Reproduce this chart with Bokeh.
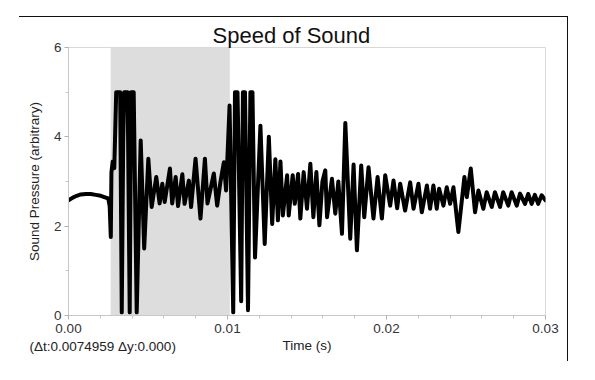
from bokeh.plotting import figure
from bokeh.models import (BoxAnnotation, FixedTicker, NumeralTickFormatter,
                          Range1d, Title)
from bokeh.embed import file_html
from bokeh.resources import INLINE

# ---- data ----
time_s = [
    0.0000, 0.00027, 0.00052, 0.00077, 0.00109, 0.0014, 0.00171, 0.00203,
    0.00234, 0.0025, 0.00259, 0.00266, 0.0027, 0.00278, 0.00288, 0.0030,
    0.00325, 0.00335, 0.00344, 0.0035, 0.00372, 0.00385, 0.00394, 0.0041,
    0.00429, 0.00454, 0.00476, 0.00502, 0.00523, 0.00552, 0.00573, 0.0059,
    0.00605, 0.00638, 0.00652, 0.00674, 0.00689, 0.00716, 0.0073, 0.00757,
    0.00771, 0.00799, 0.0083, 0.00858, 0.00874, 0.00914, 0.00935, 0.00956,
    0.00977, 0.00991, 0.01013, 0.01036, 0.01047, 0.01063, 0.01086, 0.01097,
    0.0111, 0.01129, 0.01144, 0.01157, 0.01173, 0.01207, 0.01234, 0.0126,
    0.01281, 0.01301, 0.01317, 0.01333, 0.01348, 0.01375, 0.01385, 0.0141,
    0.01423, 0.01444, 0.01458, 0.01479, 0.0150, 0.01521, 0.0154, 0.01559,
    0.01578, 0.01597, 0.01615, 0.01626, 0.01657, 0.01678, 0.01697, 0.0172,
    0.01741, 0.01772, 0.01793, 0.01814, 0.01841, 0.0186, 0.01887, 0.01918,
    0.01944, 0.01971, 0.01992, 0.02023, 0.02044, 0.02067, 0.02086, 0.02117,
    0.02149, 0.0217, 0.02201, 0.02222, 0.02254, 0.02274, 0.02295, 0.02316,
    0.02331, 0.02358, 0.02379, 0.0240, 0.02421, 0.02452, 0.0249, 0.02505,
    0.0253, 0.02557, 0.02578, 0.02609, 0.0263, 0.02662, 0.02682, 0.02714,
    0.02734, 0.02766, 0.02787, 0.02819, 0.0284, 0.02871, 0.02891, 0.02913,
    0.02933, 0.02954, 0.02976, 0.0300,
]
pressure = [
    2.58, 2.64, 2.68, 2.71, 2.72, 2.72, 2.70, 2.68,
    2.64, 2.62, 2.45, 1.76, 3.2, 3.45, 3.3, 5.0,
    5.0, 0.07, 3.9, 5.0, 5.0, 0.07, 5.0, 5.0,
    0.07, 3.92, 1.5, 3.51, 2.43, 3.1, 2.51, 2.95,
    2.54, 3.29, 2.51, 3.1, 2.45, 3.16, 2.5, 3.02,
    2.43, 3.51, 2.17, 3.51, 2.51, 3.18, 2.46, 3.0,
    3.43, 2.8, 4.7, 0.07, 5.0, 5.0, 0.32, 5.0,
    5.0, 0.12, 5.0, 5.0, 1.3, 4.25, 1.6, 4.0,
    2.05, 3.5, 2.13, 3.45, 2.24, 3.14, 2.24, 3.14,
    2.5, 3.17, 2.17, 3.21, 2.39, 3.4, 2.2, 3.21,
    2.02, 3.0, 3.25, 2.2, 3.06, 2.28, 3.0, 1.83,
    4.31, 1.72, 3.38, 1.46, 3.36, 2.2, 3.32, 2.17,
    3.1, 2.17, 3.14, 2.46, 3.02, 2.4, 2.95, 2.35,
    2.98, 2.39, 2.95, 2.31, 2.91, 2.39, 2.91, 2.39,
    2.84, 2.46, 2.87, 2.5, 2.87, 1.87, 3.1, 2.65,
    3.29, 2.31, 2.8, 2.39, 2.76, 2.43, 2.76, 2.43,
    2.76, 2.46, 2.76, 2.46, 2.73, 2.5, 2.72, 2.5,
    2.7, 2.5, 2.69, 2.58,
]
x_major = [0.0, 0.01, 0.02, 0.03]
x_minor = [0.002, 0.004, 0.006, 0.008, 0.012, 0.014, 0.016, 0.018,
           0.022, 0.024, 0.026, 0.028]
y_major = [0, 2, 4, 6]
y_minor = [1, 3, 5]
sel_start = 0.00265
sel_dt = 0.0074959
delta_text = "(\u0394t:0.0074959 \u0394y:0.000)"

FONT = "Liberation Sans"

p = figure(width=549, height=345, output_backend="svg", toolbar_location=None,
           x_range=Range1d(0, 0.03), y_range=Range1d(0, 6),
           min_border_left=49, min_border_right=23, min_border_top=30,
           min_border_bottom=47,
           styles={"border-top": "1px solid #111", "border-right": "1px solid #111",
                   "margin-left": "19px", "margin-top": "16px"})

p.add_layout(Title(text="Speed of Sound", align="left", offset=144, standoff=0,
                   text_font=FONT, text_font_size="22px", text_font_style="normal",
                   text_color="#111"), "above")

p.xgrid.visible = False
p.ygrid.visible = False
p.outline_line_color = "#d8d8d8"
p.background_fill_color = "white"

p.add_layout(BoxAnnotation(left=sel_start, right=sel_start + sel_dt,
                           fill_color="#dddddd", fill_alpha=1.0, line_alpha=0,
                           level="underlay"))

p.line(time_s, pressure, line_color="black", line_width=4,
       line_join="round", line_cap="round")

for ax in (p.xaxis[0], p.yaxis[0]):
    ax.axis_line_color = "#c8c8c8"
    ax.major_tick_line_color = "#b0b0b0"
    ax.minor_tick_line_color = "#c8c8c8"
    ax.major_tick_in = 0
    ax.major_tick_out = 4
    ax.minor_tick_in = 0
    ax.minor_tick_out = 3
    ax.major_label_text_font = FONT
    ax.major_label_text_font_size = "13.5px"
    ax.major_label_text_color = "#333"
    ax.axis_label_text_font = FONT
    ax.axis_label_text_font_size = "13.5px"
    ax.axis_label_text_font_style = "normal"
    ax.axis_label_text_color = "#222"

p.xaxis.ticker = FixedTicker(ticks=x_major, minor_ticks=x_minor)
p.yaxis.ticker = FixedTicker(ticks=y_major, minor_ticks=y_minor)
p.xaxis.formatter = NumeralTickFormatter(format="0.00")
p.xaxis.axis_label = "Time (s)"
p.yaxis.axis_label = "Sound Pressure (arbitrary)"
p.xaxis.major_label_standoff = 4
p.xaxis.axis_label_standoff = 2
p.yaxis.major_label_standoff = 3
p.yaxis.axis_label_standoff = 9

# delta readout on the same row as the x-axis label
p.add_layout(Title(text=delta_text, align="left", offset=-39, standoff=-34,
                   vertical_align="top", text_font=FONT,
                   text_font_size="13.5px", text_font_style="normal",
                   text_color="#222"), "below")

open("out.html", "w").write(file_html(p, INLINE))
